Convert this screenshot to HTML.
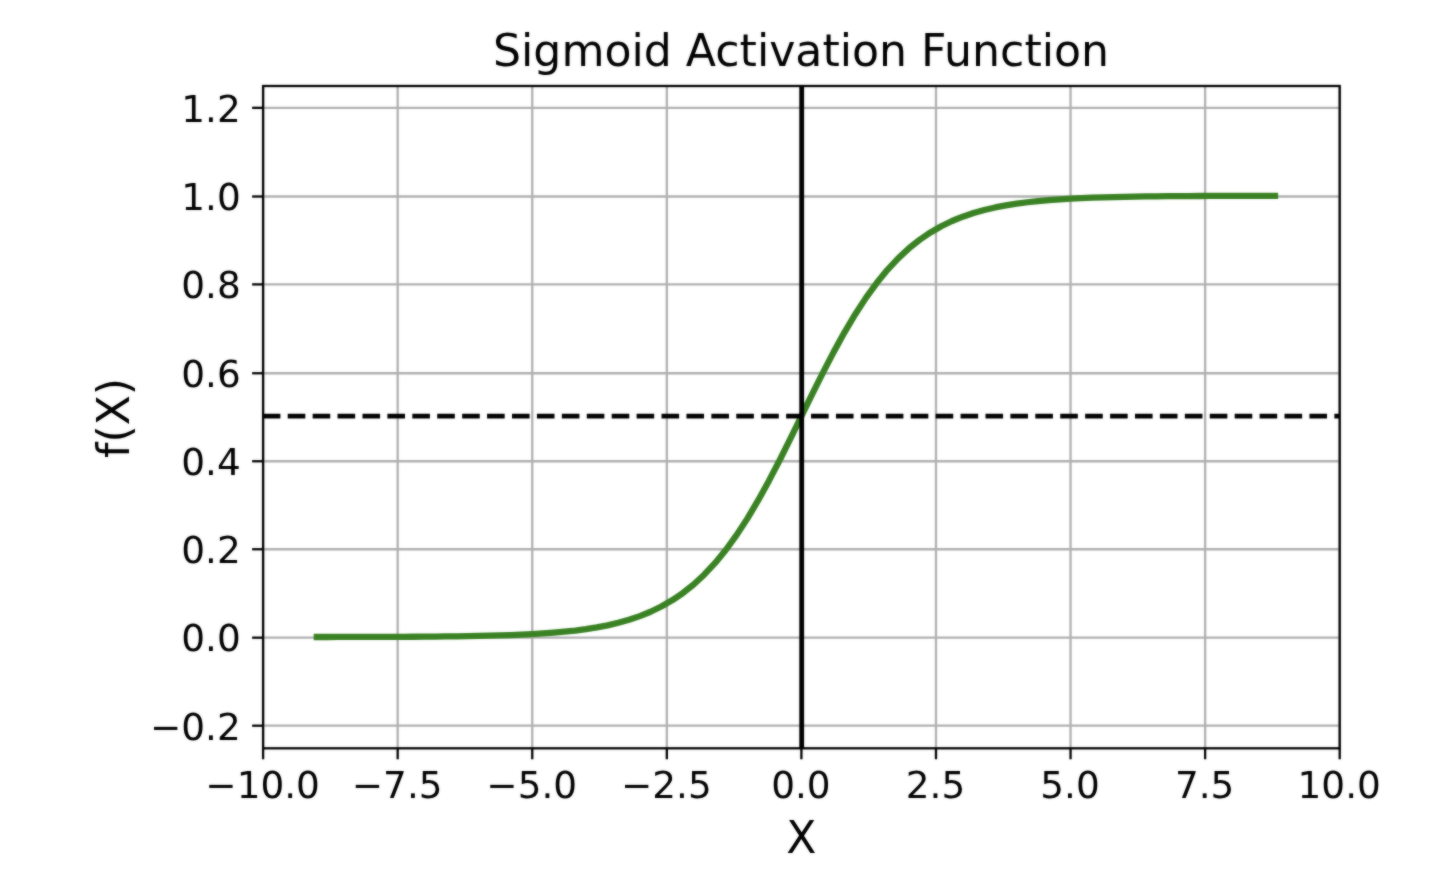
<!DOCTYPE html>
<html lang="en"><head><meta charset="utf-8"><title>Sigmoid Activation Function</title>
<style>html,body{margin:0;padding:0;background:#fff;overflow:hidden}svg{display:block}text{font-family:"DejaVu Sans","Liberation Sans",sans-serif;fill:#000}</style></head><body>
<svg width="1454" height="888" viewBox="0 0 1454 888">
<rect width="1454" height="888" fill="#fff"/>
<defs><filter id="soft" x="0" y="0" width="1454" height="888" filterUnits="userSpaceOnUse" color-interpolation-filters="sRGB"><feGaussianBlur in="SourceGraphic" stdDeviation="0.8" result="b"/><feComposite in="b" in2="SourceGraphic" operator="arithmetic" k1="0" k2="0.5" k3="0.50" k4="0"/></filter></defs>
<g filter="url(#soft)">
<rect width="1454" height="888" fill="#fff"/>
<g stroke="#b0b0b0" stroke-width="2.30" fill="none">
<line x1="263.10" y1="86.00" x2="263.10" y2="748.30"/>
<line x1="397.68" y1="86.00" x2="397.68" y2="748.30"/>
<line x1="532.25" y1="86.00" x2="532.25" y2="748.30"/>
<line x1="666.83" y1="86.00" x2="666.83" y2="748.30"/>
<line x1="801.40" y1="86.00" x2="801.40" y2="748.30"/>
<line x1="935.98" y1="86.00" x2="935.98" y2="748.30"/>
<line x1="1070.55" y1="86.00" x2="1070.55" y2="748.30"/>
<line x1="1205.12" y1="86.00" x2="1205.12" y2="748.30"/>
<line x1="1339.70" y1="86.00" x2="1339.70" y2="748.30"/>
<line x1="263.10" y1="725.70" x2="1339.70" y2="725.70"/>
<line x1="263.10" y1="637.68" x2="1339.70" y2="637.68"/>
<line x1="263.10" y1="549.25" x2="1339.70" y2="549.25"/>
<line x1="263.10" y1="461.25" x2="1339.70" y2="461.25"/>
<line x1="263.10" y1="373.25" x2="1339.70" y2="373.25"/>
<line x1="263.10" y1="284.38" x2="1339.70" y2="284.38"/>
<line x1="263.10" y1="196.50" x2="1339.70" y2="196.50"/>
<line x1="263.10" y1="107.84" x2="1339.70" y2="107.84"/>
</g>
<polyline points="316.83,637.00 327.60,636.99 338.36,636.97 349.13,636.96 359.89,636.93 370.66,636.91 381.43,636.88 392.19,636.84 402.96,636.79 413.72,636.73 424.49,636.65 435.26,636.57 446.02,636.46 456.79,636.32 467.55,636.16 478.32,635.96 489.09,635.72 499.85,635.43 510.62,635.07 521.38,634.63 532.15,634.10 542.92,633.45 553.68,632.66 564.45,631.70 575.21,630.54 585.98,629.12 596.75,627.40 607.51,625.32 618.28,622.80 629.04,619.77 639.81,616.13 650.58,611.76 661.34,606.54 672.11,600.35 682.87,593.03 693.64,584.45 704.41,574.45 715.17,562.92 725.94,549.75 736.70,534.90 747.47,518.36 758.24,500.23 769.00,480.67 779.77,459.94 790.53,438.38 801.30,416.39 812.07,394.40 822.83,372.84 833.60,352.11 844.36,332.55 855.13,314.42 865.90,297.88 876.66,283.03 887.43,269.86 898.19,258.33 908.96,248.33 919.73,239.75 930.49,232.43 941.26,226.24 952.02,221.02 962.79,216.66 973.56,213.01 984.32,209.98 995.09,207.46 1005.85,205.38 1016.62,203.66 1027.39,202.25 1038.15,201.08 1048.92,200.12 1059.68,199.33 1070.45,198.68 1081.22,198.15 1091.98,197.71 1102.75,197.35 1113.51,197.06 1124.28,196.82 1135.05,196.62 1145.81,196.46 1156.58,196.33 1167.34,196.22 1178.11,196.13 1188.88,196.06 1199.64,196.00 1210.41,195.95 1221.17,195.91 1231.94,195.87 1242.71,195.85 1253.47,195.83 1264.24,195.81 1275.00,195.79" fill="none" stroke="#398123" stroke-width="6.30" stroke-linejoin="round" stroke-linecap="square"/>
<line x1="262.80" y1="416.15" x2="1339.70" y2="416.15" stroke="#000" stroke-width="4.85" stroke-dasharray="17.60 7.32"/>
<line x1="801.70" y1="86.00" x2="801.70" y2="748.30" stroke="#000" stroke-width="4.80"/>
<g stroke="#000" stroke-width="2.30">
<line x1="263.10" y1="748.30" x2="263.10" y2="759.29"/>
<line x1="397.68" y1="748.30" x2="397.68" y2="759.29"/>
<line x1="532.25" y1="748.30" x2="532.25" y2="759.29"/>
<line x1="666.83" y1="748.30" x2="666.83" y2="759.29"/>
<line x1="801.40" y1="748.30" x2="801.40" y2="759.29"/>
<line x1="935.98" y1="748.30" x2="935.98" y2="759.29"/>
<line x1="1070.55" y1="748.30" x2="1070.55" y2="759.29"/>
<line x1="1205.12" y1="748.30" x2="1205.12" y2="759.29"/>
<line x1="1339.70" y1="748.30" x2="1339.70" y2="759.29"/>
<line x1="252.11" y1="725.70" x2="263.10" y2="725.70"/>
<line x1="252.11" y1="637.68" x2="263.10" y2="637.68"/>
<line x1="252.11" y1="549.25" x2="263.10" y2="549.25"/>
<line x1="252.11" y1="461.25" x2="263.10" y2="461.25"/>
<line x1="252.11" y1="373.25" x2="263.10" y2="373.25"/>
<line x1="252.11" y1="284.38" x2="263.10" y2="284.38"/>
<line x1="252.11" y1="196.50" x2="263.10" y2="196.50"/>
<line x1="252.11" y1="107.84" x2="263.10" y2="107.84"/>
</g>
<rect x="263.10" y="86.00" width="1076.60" height="662.30" fill="none" stroke="#000" stroke-width="2.30"/>
<g font-size="37.40" text-anchor="middle">
<text x="262.60" y="797.70">−10.0</text>
<text x="397.18" y="797.70">−7.5</text>
<text x="531.75" y="797.70">−5.0</text>
<text x="666.33" y="797.70">−2.5</text>
<text x="800.90" y="797.70">0.0</text>
<text x="935.48" y="797.70">2.5</text>
<text x="1070.05" y="797.70">5.0</text>
<text x="1204.62" y="797.70">7.5</text>
<text x="1339.20" y="797.70">10.0</text>
</g>
<g font-size="37.40" text-anchor="end">
<text x="240.72" y="739.59">−0.2</text>
<text x="240.72" y="651.33">0.0</text>
<text x="240.72" y="563.06">0.2</text>
<text x="240.72" y="474.79">0.4</text>
<text x="240.72" y="386.53">0.6</text>
<text x="240.72" y="298.26">0.8</text>
<text x="240.72" y="210.00">1.0</text>
<text x="240.72" y="121.73">1.2</text>
</g>
<text x="801.05" y="66.2" font-size="44.2" text-anchor="middle">Sigmoid Activation Function</text>
<text x="801.40" y="853.0" font-size="44.00" text-anchor="middle">X</text>
<text transform="translate(128.7,417.95) rotate(-90)" font-size="44.00" text-anchor="middle">f(X)</text>
</g>
</svg></body></html>
